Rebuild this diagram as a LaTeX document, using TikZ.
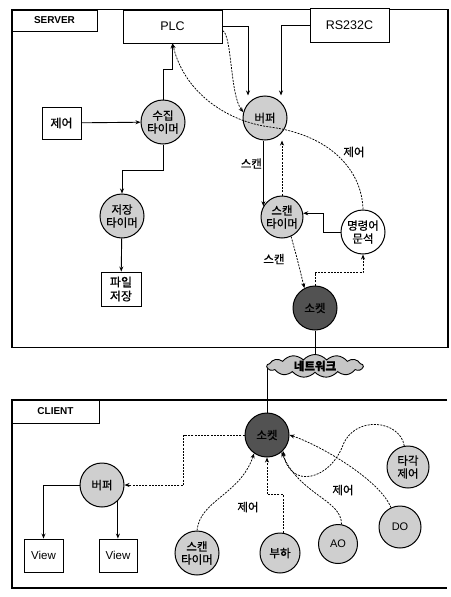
\documentclass[tikz,border=0pt]{standalone}
\usepackage{fontspec}
\setmainfont{Liberation Sans}
\newfontfamily\kr[FakeBold=0.8]{Noto Sans CJK KR}
\usetikzlibrary{arrows.meta,shapes.symbols,backgrounds,calc}
\begin{document}
\begin{tikzpicture}[x=1pt,y=-1pt,
  frame/.style={line width=1.6pt},
  tagbox/.style={draw, line width=0.9pt, inner sep=0pt, font=\bfseries\fontsize{10}{12}\selectfont},
  box/.style={draw, line width=0.9pt, inner sep=0pt, align=center, fill=white},
  krtext/.style={font=\kr\fontsize{12}{14}\selectfont},
  latext/.style={font=\fontsize{12.5}{14}\selectfont},
  proc/.style={circle, draw, line width=1pt, fill=gray!38, minimum size=44pt, inner sep=0pt, align=center, font=\kr\fontsize{11.5}{13}\selectfont},
  sock/.style={proc, fill=black!68},
  conn/.style={line width=0.9pt},
  arr/.style={-{Stealth[length=5pt,width=4pt]}},
  dsh/.style={line width=0.75pt, dash pattern=on 2pt off 1.2pt},
  lab/.style={font=\kr\fontsize{11.5}{13}\selectfont, inner sep=1pt},
]
\useasboundingbox (0,0) rectangle (450,597);
% frames
\draw[frame] (12,9.5) rectangle (448,347.5);
\draw[frame] (447,400) -- (12,400) -- (12,588) -- (447,588);
\node[tagbox, minimum width=85pt, minimum height=21pt] (stag) at (54.5,20.5) {SERVER};
\node[tagbox, minimum width=87pt, minimum height=23pt] (ctag) at (55.5,411.5) {CLIENT};
% server nodes
\node[box, latext, minimum width=99pt, minimum height=33pt] (plc) at (172.5,26.5) {PLC};
\node[box, latext, minimum width=79pt, minimum height=34pt] (rs) at (349.5,25) {RS232C};
\node[box, krtext, minimum width=39pt, minimum height=32pt] (ctrl) at (61.5,123) {제어};
\node[proc] (collect) at (163,122) {수집\\타이머};
\node[proc] (save) at (122,216) {저장\\타이머};
\node[box, krtext, minimum width=40pt, minimum height=34pt] (file) at (121,289) {파일\\저장};
\node[proc] (sbuf) at (265,118) {버퍼};
\node[proc, minimum size=42pt] (sscan) at (282,217) {스캔\\타이머};
\node[proc, fill=white] (mp) at (363,232) {명령어\\문석};
\node[sock] (ssock) at (315,308) {소켓};
\node[cloud, draw, line width=0.9pt, fill=gray!45, cloud puffs=13, cloud puff arc=100, aspect=4.2, minimum width=96pt, minimum height=23pt, inner sep=0pt, font=\kr\bfseries\fontsize{11.5}{13}\selectfont] (net) at (315,366) {네트워크};
% client nodes
\node[sock] (csock) at (267,435) {소켓};
\node[proc] (cbuf) at (102,485) {버퍼};
\node[box, font=\fontsize{11.5}{13}\selectfont, minimum width=39pt, minimum height=33pt] (v1) at (43.5,555.5) {View};
\node[box, font=\fontsize{11.5}{13}\selectfont, minimum width=38pt, minimum height=33pt] (v2) at (118,555.5) {View};
\node[proc] (cscan) at (197,553) {스캔\\타이머};
\node[proc, minimum size=40pt] (load) at (280,553) {부하};
\node[proc, minimum size=39pt, font=\fontsize{11}{13}\selectfont] (ao) at (338,544) {AO};
\node[proc, minimum size=42pt, font=\fontsize{11}{13}\selectfont] (do) at (400,527) {DO};
\node[proc, minimum size=42pt] (rud) at (408,467) {타각\\제어};
% network line
\begin{scope}[on background layer]
\draw[conn] (ssock.south) -- (net.center);
\draw[conn] (csock.north |- net.center) -- (csock.north);
\end{scope}
% server connectors
\draw[conn,arr] (plc.east) -| ([xshift=-17pt]sbuf.north);
\draw[conn,arr] (rs.west) -| ([xshift=16pt]sbuf.north);
\draw[dsh,arr] ([yshift=-4pt]plc.east) .. controls (232,34) and (230,95) .. (sbuf.165);
\draw[dsh,arr] (mp.north) .. controls (362,170) and (330,135) .. (270,127) .. controls (230,122) and (185,95) .. (plc.south);
\node[lab] (l1) at (354,152) {제어};
\draw[conn,arr] (ctrl) -- (collect);
\draw[conn,arr] (collect.north) -- ++(0,-30) -| (plc.south);
\draw[conn,arr] (collect.south) -- ++(0,26) -| (save.north);
\draw[conn,arr] (save) -- (file);
\draw[conn,arr] (sbuf.south -| sscan.150) -- (sscan.150) node[lab, pos=0.35, left] {스캔};
\draw[dsh,arr] (sscan.north) -- (sscan.north |- sbuf.south);
\draw[conn,arr] (mp.west) -- ++(-17,0) |- (sscan.10);
\draw[dsh,arr] (ssock.north) -- ++(0,-13) -| (mp.south);
\draw[dsh,arr] (sscan.-65) .. controls (297,258) .. (ssock.118);
\node[lab] (l2) at (274,259) {스캔};
% client connectors
\draw[dsh,arr] (csock.west) -- ++(-61,0) |- (cbuf.east);
\draw[conn,arr] (cbuf.west) -| (v1.north);
\draw[conn,arr] (cbuf.-45) -- (cbuf.-45 |- v2.north);
\draw[dsh,arr] (cscan.north) .. controls (200,500) and (240,495) .. (csock.235);
\node[lab] (l3) at (248,507) {제어};
\draw[dsh,arr] ([xshift=3pt]load.north) -- ++(0,-38) -| (csock.south);
\draw[dsh,arr] (ao.80) .. controls (342,500) and (300,495) .. (csock.-50);
\node[lab] (l4) at (343,490) {제어};
\draw[dsh,arr] (do.115) .. controls (380,480) and (320,445) .. (csock.east);
\draw[dsh,arr] (rud.100) .. controls (400,420) and (355,415) .. (343,445) .. controls (330,480) and (290,490) .. (csock.-45);
\end{tikzpicture}
\end{document}
